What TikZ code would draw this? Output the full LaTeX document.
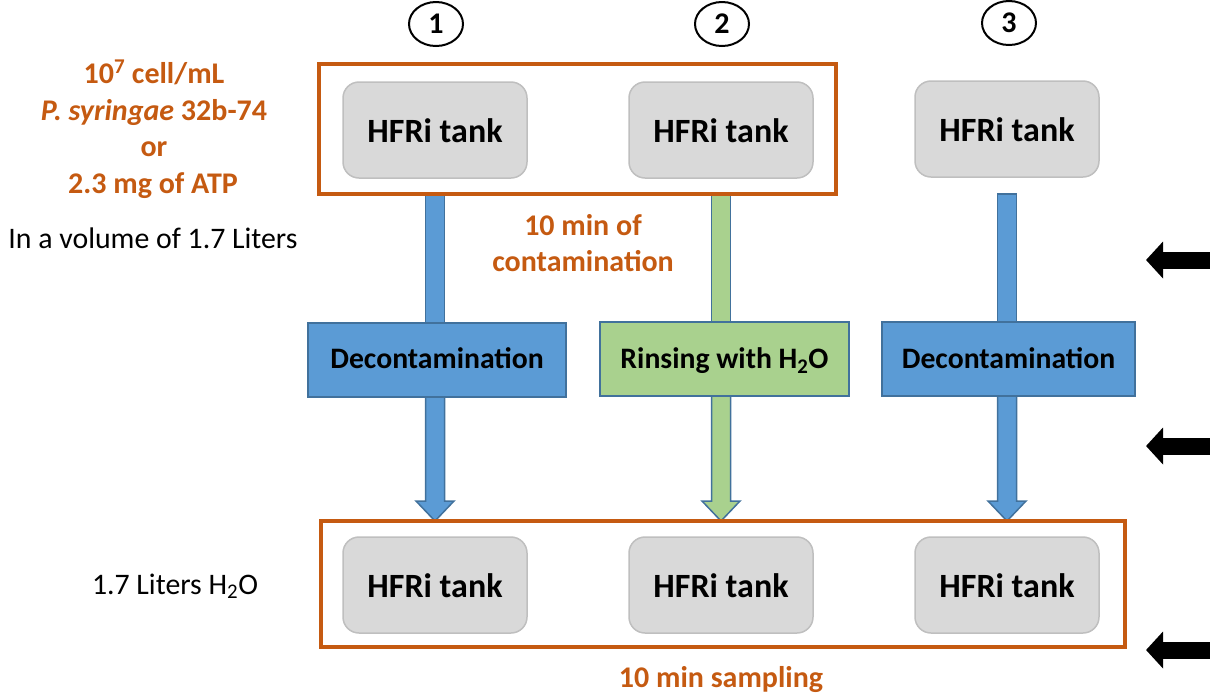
\documentclass[tikz,border=0pt]{standalone}
\usepackage{fontspec}
\setmainfont{Carlito}
\usetikzlibrary{calc,shapes.geometric,arrows.meta}
\definecolor{orng}{HTML}{C55A11}
\definecolor{tankfill}{HTML}{D9D9D9}
\definecolor{tankdraw}{HTML}{BFBFBF}
\definecolor{bluefill}{HTML}{5B9BD5}
\definecolor{bluedraw}{HTML}{41719C}
\definecolor{greenfill}{HTML}{A9D18E}
\tikzset{
  tank/.style={rounded corners=16pt, fill=tankfill, draw=tankdraw, line width=1.5pt,
    minimum width=184pt, minimum height=96pt, inner sep=0pt, outer sep=0pt},
  tanktext/.style={anchor=base, inner sep=0pt, font=\fontsize{34}{40}\selectfont\bfseries},
  frame/.style={draw=orng, line width=4pt, inner sep=0pt, outer sep=0pt},
  stepbluebox/.style={fill=bluefill, draw=bluedraw, line width=1.5pt, inner sep=0pt, outer sep=0pt, minimum height=74pt},
  stepgreenbox/.style={fill=greenfill, draw=bluedraw, line width=1.5pt, inner sep=0pt, outer sep=0pt, minimum height=74pt},
  steptext/.style={anchor=base, inner sep=0pt, font=\fontsize{29.7}{34}\selectfont\bfseries},
  blueshaft/.style={fill=bluefill, draw=bluedraw, line width=1.5pt},
  greenshaft/.style={fill=greenfill, draw=bluedraw, line width=1.5pt},
  numcirc/.style={ellipse, draw=black, line width=2pt, minimum width=54pt, minimum height=44pt, inner sep=0pt,
    font=\fontsize{30}{34}\selectfont\bfseries},
  orngtext/.style={anchor=base, inner sep=0pt, text=orng, font=\fontsize{30}{36}\selectfont\bfseries},
  plaintext/.style={anchor=base, inner sep=0pt, font=\fontsize{29.8}{36}\selectfont},
  blackarrow/.style={line width=17pt, -{Triangle[width=36pt,length=17pt]}},
}
\begin{document}
\begin{tikzpicture}[x=1pt,y=-1pt]
\useasboundingbox (0,0) rectangle (1210,697);
% frames (geometry only, drawn later)
\node[inner sep=0pt, outer sep=0pt, minimum width=517pt, minimum height=130pt] (topf) at (577.5,129) {};
\node[inner sep=0pt, outer sep=0pt, minimum width=804pt, minimum height=126pt] (botf) at (723,584) {};
% tanks
\node[tank] (t1) at (435,130) {};
\node[tank] (t2) at (721,130) {};
\node[tank] (t3) at (1007,129) {};
\node[tank] (b1) at (435,585) {};
\node[tank] (b2) at (721,585) {};
\node[tank] (b3) at (1007,585) {};
% step boxes
\node[stepbluebox, minimum width=258pt] (d1) at (437,360) {};
\node[stepgreenbox, minimum width=249pt] (r2) at (724.5,359) {};
\node[stepbluebox, minimum width=253pt] (d3) at (1008.5,359) {};
% shafts top segments
\coordinate (c1) at (topf.south -| t1.south);
\coordinate (c2) at (topf.south -| t2.south);
\coordinate (c3) at (topf.south -| t3.south);
\path[blueshaft] ($(c1)+(-9.5,0)$) rectangle ($(d1.north -| c1)+(9.5,0)$);
\path[greenshaft] ($(c2)+(-9.5,0)$) rectangle ($(r2.north -| c2)+(9.5,0)$);
\path[blueshaft] ($(c3)+(-9.5,0)$) rectangle ($(d3.north -| c3)+(9.5,0)$);
% shafts bottom segments with heads
\coordinate (e1) at (botf.north -| t1.south);
\coordinate (e2) at (botf.north -| t2.south);
\coordinate (e3) at (botf.north -| t3.south);
\path[blueshaft] ($(d1.south -| e1)+(-9.5,0)$) -- ($(d1.south -| e1)+(9.5,0)$) -- ($(e1)+(9.5,-20)$) -- ($(e1)+(19,-20)$) -- (e1) -- ($(e1)+(-19,-20)$) -- ($(e1)+(-9.5,-20)$) -- cycle;
\path[greenshaft] ($(r2.south -| e2)+(-9.5,0)$) -- ($(r2.south -| e2)+(9.5,0)$) -- ($(e2)+(9.5,-20)$) -- ($(e2)+(19,-20)$) -- (e2) -- ($(e2)+(-19,-20)$) -- ($(e2)+(-9.5,-20)$) -- cycle;
\path[blueshaft] ($(d3.south -| e3)+(-9.5,0)$) -- ($(d3.south -| e3)+(9.5,0)$) -- ($(e3)+(9.5,-20)$) -- ($(e3)+(19,-20)$) -- (e3) -- ($(e3)+(-19,-20)$) -- ($(e3)+(-9.5,-20)$) -- cycle;
% redraw boxes on top of shafts
\node[stepbluebox, minimum width=258pt] at (d1) {};
\node[stepgreenbox, minimum width=249pt] at (r2) {};
\node[stepbluebox, minimum width=253pt] at (d3) {};
% frames
\draw[frame] (topf.north west) rectangle (topf.south east);
\draw[frame] (botf.north west) rectangle (botf.south east);
% tank texts
\node[tanktext] (t1l) at (435,142) {HFRi tank};
\node[tanktext] (t2l) at (721,142) {HFRi tank};
\node[tanktext] (t3l) at (1007,141) {HFRi tank};
\node[tanktext] (b1l) at (435,597) {HFRi tank};
\node[tanktext] (b2l) at (721,597) {HFRi tank};
\node[tanktext] (b3l) at (1007,597) {HFRi tank};
% step texts
\node[steptext] (d1l) at (437,368) {Decontamination};
\node[steptext] (r2l) at (724.5,368) {Rinsing with H\textsubscript{2}O};
\node[steptext] (d3l) at (1008.5,368) {Decontamination};
% numbers
\node[numcirc] (n1) at (436,24) {1};
\node[numcirc] (n2) at (722,24) {2};
\node[numcirc] (n3) at (1009,23) {3};
% left texts
\node[orngtext] (o1) at (154,83) {10\textsuperscript{7} cell/mL};
\node[orngtext] (o2) at (154,120) {\textit{P. syringae} 32b-74};
\node[orngtext] (o3) at (154,156) {or};
\node[orngtext] (o4) at (153,193) {2.3 mg of ATP};
\node[plaintext] (vol) at (153,248) {In a volume of 1.7 Liters};
\node[orngtext] (cm1) at (583,235) {10 min of};
\node[orngtext] (cm2) at (583,271) {contamination};
\node[plaintext] (lh) at (175,594) {1.7 Liters H\textsubscript{2}O};
\node[orngtext] (smp) at (721,687) {10 min sampling};
% right arrows
\coordinate (ra1s) at (1212,260);
\coordinate (ra1e) at (1146,260);
\coordinate (ra2s) at (1212,446);
\coordinate (ra2e) at (1146,446);
\coordinate (ra3s) at (1212,650);
\coordinate (ra3e) at (1146,650);
\draw[blackarrow] (ra1s) -- (ra1e);
\draw[blackarrow] (ra2s) -- (ra2e);
\draw[blackarrow] (ra3s) -- (ra3e);
\end{tikzpicture}
\end{document}
